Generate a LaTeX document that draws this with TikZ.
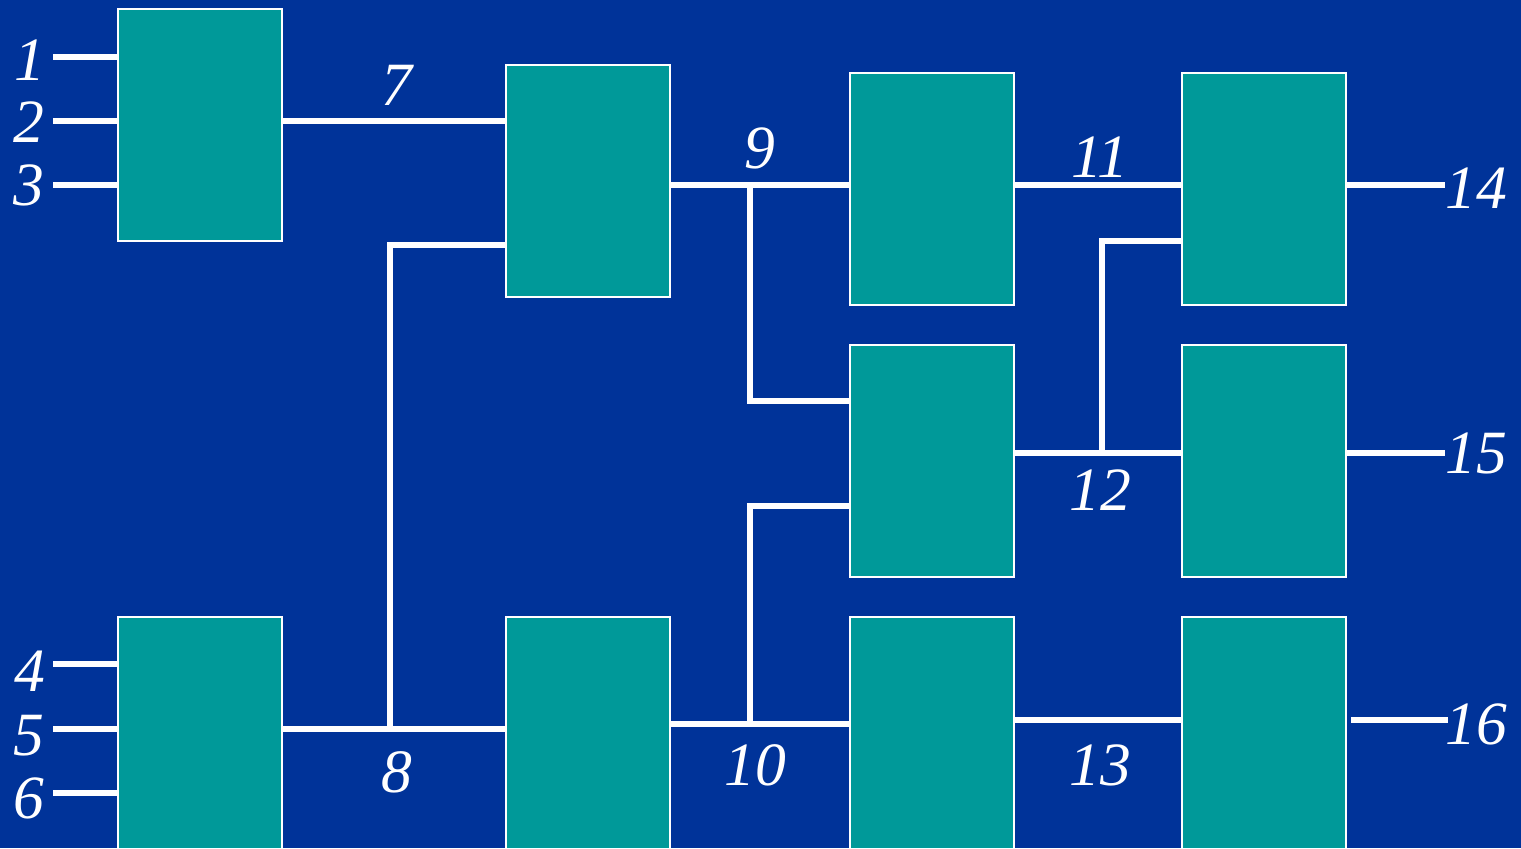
\documentclass[tikz,border=0pt]{standalone}
\usepackage{fontspec}
\setmainfont{Liberation Serif}
\usetikzlibrary{calc}

\definecolor{bgblue}{HTML}{003399}
\definecolor{boxteal}{HTML}{009999}

\tikzset{
    block/.style={draw=white, line width=0.6pt, fill=boxteal,
        minimum width=1.64cm, minimum height=2.32cm, inner sep=0pt},
    wire/.style={draw=white, line width=1.7pt},
    num/.style={text=white, inner sep=0pt, font=\fontsize{17.5}{20}\selectfont\itshape}
}

\begin{document}
\begin{tikzpicture}[x=0.01cm, y=-0.01cm]

% Background and frame
\clip (0,0) rectangle (1521,848);
\fill[bgblue] (0,0) rectangle (1521,848);

% Blocks
\node[block] (A) at (200,125) {};
\node[block] (B) at (588,181) {};
\node[block] (C) at (932,189) {};
\node[block] (D) at (1264,189) {};
\node[block] (E) at (932,461) {};
\node[block] (F) at (1264,461) {};
\node[block] (G) at (200,733) {};
\node[block] (H) at (588,733) {};
\node[block] (I) at (932,733) {};
\node[block] (J) at (1264,733) {};

% Inputs
\coordinate (in1) at (53,57);
\coordinate (in2) at (53,121);
\coordinate (in3) at (53,185);
\coordinate (in4) at (53,664);
\coordinate (in5) at (53,729);
\coordinate (in6) at (53,793);
\foreach \n in {1,2,3}
{
    \draw[wire] (in\n) -- (in\n -| A.west);
}
\foreach \n in {4,5,6}
{
    \draw[wire] (in\n) -- (in\n -| G.west);
}
\node[num] (l1) at (30,60) {1};
\node[num] (l2) at (29,122) {2};
\node[num] (l3) at (29,185) {3};
\node[num] (l4) at (30,671) {4};
\node[num] (l5) at (29,736) {5};
\node[num] (l6) at (29,798) {6};

% Junction points
\coordinate (w7) at (282,121);
\coordinate (w8) at (282,729);
\coordinate (j8) at (390,729);
\coordinate (k8) at (390,245);
\coordinate (w9) at (670,185);
\coordinate (j9) at (750,185);
\coordinate (k9) at (750,401);
\coordinate (w10) at (670,724);
\coordinate (j10) at (750,724);
\coordinate (k10) at (750,506);
\coordinate (j12) at (1102,453);
\coordinate (k12) at (1102,241);

% Internal wires
\draw[wire] (w7) -- (w7 -| B.west);
\draw[wire] (w8) -- (w8 -| H.west);
\draw[wire] (j8) -- (k8) -- (k8 -| B.west);
\draw[wire] (w9) -- (w9 -| C.west);
\draw[wire] (j9) -- (k9) -- (k9 -| E.west);
\draw[wire] (w10) -- (w10 -| I.west);
\draw[wire] (j10) -- (k10) -- (k10 -| E.west);
\draw[wire] (C.east |- j9) -- (D.west |- j9);
\draw[wire] (E.east |- j12) -- (F.west |- j12);
\draw[wire] (j12) -- (k12) -- (k12 -| D.west);
\draw[wire] (I.east |- 0,720) -- (J.west |- 0,720);

% Outputs
\coordinate (out14) at (1445,185);
\coordinate (out15) at (1445,453);
\coordinate (out16) at (1448,720);
\draw[wire] (D.east |- out14) -- (out14);
\draw[wire] (F.east |- out15) -- (out15);
\draw[wire] ($(J.east |- out16)+(4,0)$) -- (out16);

% Wire labels
\node[num] (l7) at (397,85) {7};
\node[num] (l8) at (397,772) {8};
\node[num] (l9) at (760,148) {9};
\node[num] (l10) at (755,765) {10};
\node[num] (l11) at (1100,157) {11};
\node[num] (l12) at (1100,490) {12};
\node[num] (l13) at (1100,765) {13};
\node[num] (l14) at (1476,188) {14};
\node[num] (l15) at (1476,453) {15};
\node[num] (l16) at (1476,724) {16};

\end{tikzpicture}
\end{document}
